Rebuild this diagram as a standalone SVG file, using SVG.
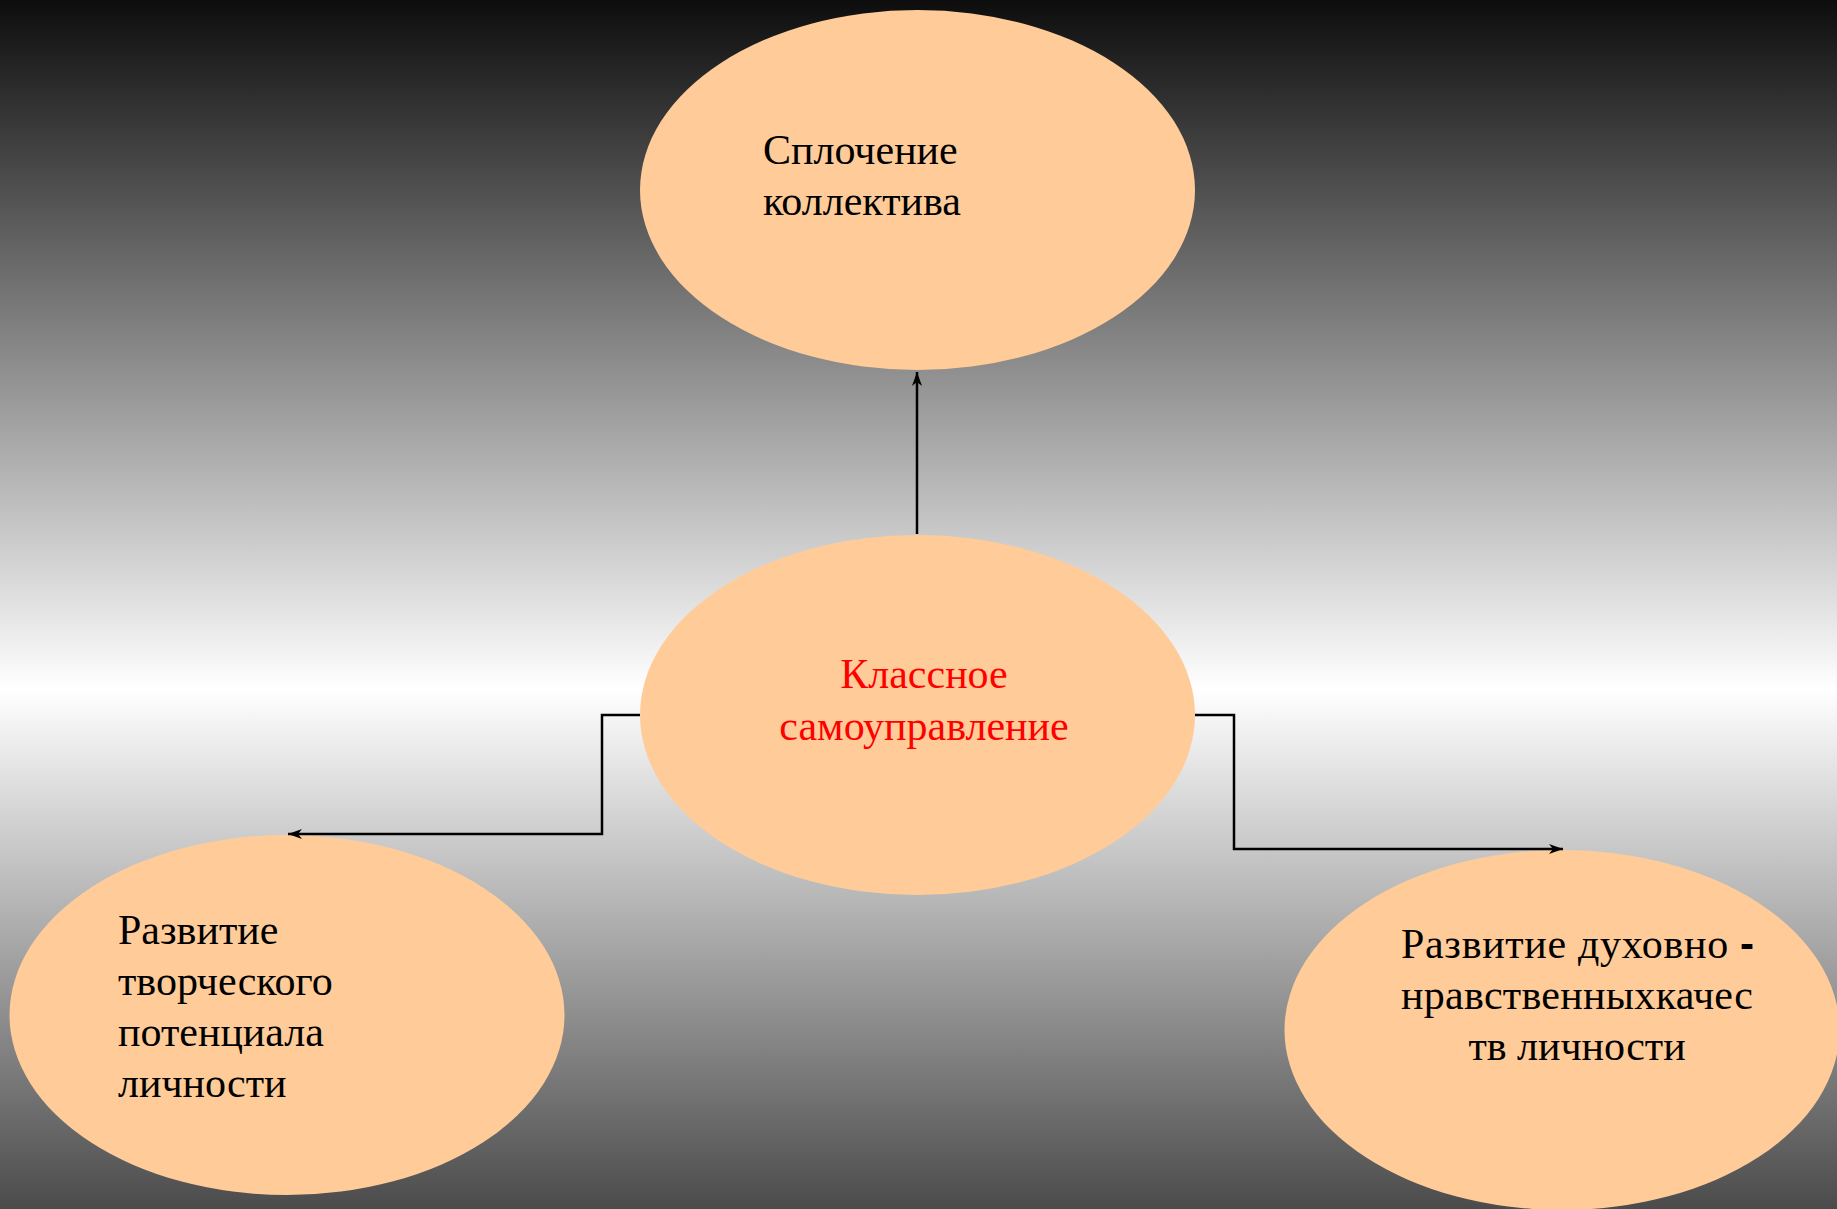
<svg xmlns="http://www.w3.org/2000/svg" width="1837" height="1209" viewBox="0 0 1837 1209">
<defs>
<linearGradient id="bg" x1="0" y1="0" x2="0" y2="1">
<stop offset="0" stop-color="#0d0d0d"/>
<stop offset="0.57" stop-color="#ffffff"/>
<stop offset="1" stop-color="#4b4b4b"/>
</linearGradient>
<marker id="arr" viewBox="0 0 14 10" refX="14" refY="5" markerWidth="14" markerHeight="10" markerUnits="userSpaceOnUse" orient="auto">
<path d="M0,0 L14,5 L0,10 L4,5 Z" fill="#000"/>
</marker>
</defs>
<style>
.node ellipse{fill:#FFCC99;}
.t{font-family:"Liberation Serif","Times New Roman",serif;font-size:42px;fill:#000;}
.red{fill:#FF0000;}
.conn{fill:none;stroke:#000;stroke-width:2.5;}
.dash{font-family:"Liberation Sans",Arial,sans-serif;font-weight:bold;}
</style>
<rect x="0" y="0" width="1837" height="1209" fill="url(#bg)"/>
<g id="node-top" class="node">
<ellipse cx="917.5" cy="190" rx="277.5" ry="180"/>
<text class="t" x="763" y="164">Сплочение</text>
<text class="t" x="763" y="215">коллектива</text>
</g>
<g id="node-center" class="node">
<ellipse cx="917.5" cy="715" rx="277.5" ry="180"/>
<text class="t red" x="924" y="688" text-anchor="middle">Классное</text>
<text class="t red" x="924" y="740" text-anchor="middle">самоуправление</text>
</g>
<g id="node-left" class="node">
<ellipse cx="287" cy="1015" rx="277.5" ry="180"/>
<text class="t" x="118" y="944">Развитие</text>
<text class="t" x="118" y="995">творческого</text>
<text class="t" x="118" y="1046">потенциала</text>
<text class="t" x="118" y="1097">личности</text>
</g>
<g id="node-right" class="node">
<ellipse cx="1562" cy="1030" rx="277.5" ry="180"/>
<text class="t" x="1401" y="958" textLength="353" lengthAdjust="spacing">Развитие духовно <tspan class="dash">-</tspan></text>
<text class="t" x="1401" y="1009" textLength="352" lengthAdjust="spacing">нравственныхкачес</text>
<text class="t" x="1577" y="1060" text-anchor="middle">тв личности</text>
</g>
<g id="connectors">
<path class="conn" d="M917,534 L917,372" marker-end="url(#arr)"/>
<path class="conn" d="M640,715 L602,715 L602,834 L288,834" marker-end="url(#arr)"/>
<path class="conn" d="M1195,715 L1234,715 L1234,849 L1563,849" marker-end="url(#arr)"/>
</g>
</svg>
